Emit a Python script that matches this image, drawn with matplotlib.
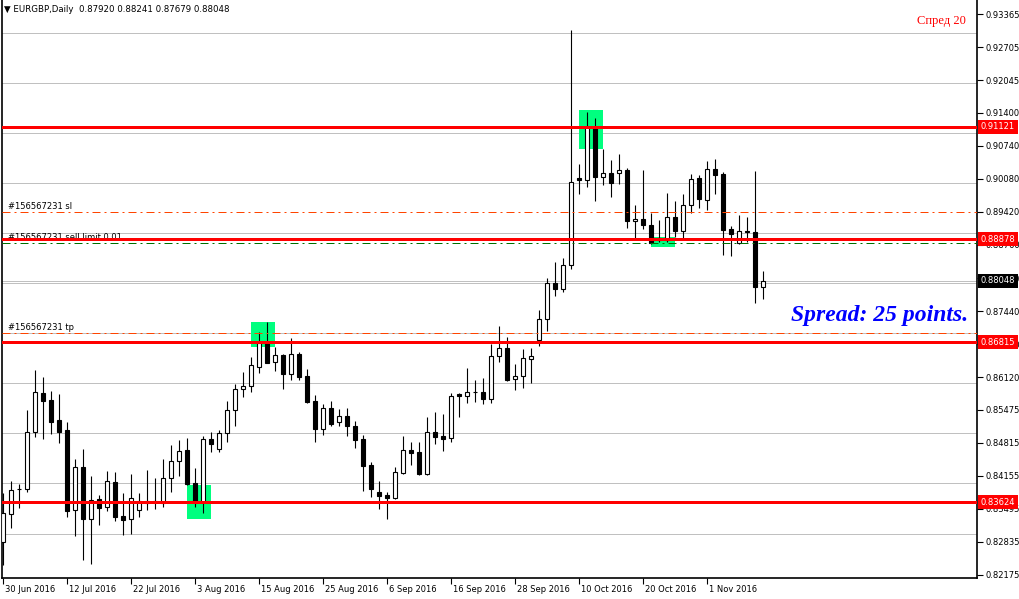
import numpy as np
import matplotlib.pyplot as plt
from matplotlib.patches import Rectangle
from matplotlib.transforms import ScaledTranslation

# EURGBP daily bars (index 0 = 30 Jun 2016)
opens = [0.82826, 0.83385, 0.83880, 0.83884, 0.85021, 0.85812, 0.85660, 0.85267, 0.85067, 0.83464,
         0.84329, 0.83297, 0.83684, 0.83524, 0.84023, 0.83351, 0.83285, 0.83464, 0.83616, 0.83624,
         0.83604, 0.84103, 0.84442, 0.84668, 0.84003, 0.83630, 0.84888, 0.84682, 0.85001, 0.85460,
         0.85880, 0.85940, 0.86331, 0.86798, 0.86419, 0.86564, 0.86179, 0.86584, 0.86145, 0.85646,
         0.85081, 0.85500, 0.85221, 0.85341, 0.85141, 0.84888, 0.84369, 0.83830, 0.83776, 0.83716,
         0.84203, 0.84674, 0.84622, 0.84189, 0.85027, 0.84953, 0.84902, 0.85776, 0.85740, 0.85820,
         0.85822, 0.85680, 0.86554, 0.86698, 0.86091, 0.86135, 0.86494, 0.86858, 0.87277, 0.87995,
         0.87876, 0.88355, 0.90091, 0.90063, 0.91109, 0.90123, 0.90191, 0.90203, 0.90251, 0.89233,
         0.89273, 0.89159, 0.88893, 0.88860, 0.89313, 0.89033, 0.89552, 0.90091, 0.89652, 0.90271,
         0.90171, 0.89073, 0.88794, 0.89033, 0.89013, 0.87920]
highs = [0.83816, 0.84049, 0.83989, 0.85466, 0.86265, 0.86125, 0.85846, 0.85786, 0.85227, 0.84488,
         0.84688, 0.84149, 0.83770, 0.84249, 0.84229, 0.83804, 0.84189, 0.83810, 0.84269, 0.84115,
         0.84488, 0.84768, 0.84874, 0.84908, 0.84303, 0.84942, 0.85021, 0.85067, 0.85646, 0.85979,
         0.86225, 0.86530, 0.87017, 0.87229, 0.86718, 0.86584, 0.86898, 0.86618, 0.86285, 0.85766,
         0.85586, 0.85646, 0.85486, 0.85500, 0.85247, 0.84967, 0.84435, 0.84049, 0.83830, 0.84335,
         0.84947, 0.84828, 0.84822, 0.85327, 0.85427, 0.85387, 0.85806, 0.85806, 0.86299, 0.86065,
         0.86099, 0.86784, 0.87143, 0.86918, 0.86379, 0.86684, 0.86698, 0.87462, 0.88107, 0.88415,
         0.88494, 0.93051, 0.90377, 0.91415, 0.91295, 0.90670, 0.90456, 0.90576, 0.90297, 0.89558,
         0.90257, 0.89404, 0.89259, 0.89792, 0.89638, 0.89778, 0.90177, 0.90157, 0.90442, 0.90470,
         0.90219, 0.89139, 0.89359, 0.89313, 0.90237, 0.88241]
lows = [0.82373, 0.83117, 0.83516, 0.83836, 0.84922, 0.84882, 0.84993, 0.84814, 0.83337, 0.82957,
        0.82472, 0.82393, 0.83171, 0.83450, 0.83257, 0.82971, 0.82985, 0.83337, 0.83470, 0.83484,
        0.83536, 0.83836, 0.84155, 0.83960, 0.83536, 0.83405, 0.84622, 0.84628, 0.84834, 0.85153,
        0.85732, 0.85826, 0.86199, 0.86399, 0.86245, 0.85886, 0.86065, 0.86065, 0.85600, 0.84834,
        0.84967, 0.85147, 0.85147, 0.84953, 0.84714, 0.83856, 0.83736, 0.83496, 0.83291, 0.83690,
        0.84189, 0.84375, 0.84175, 0.84175, 0.84788, 0.84654, 0.84834, 0.85333, 0.85600, 0.85632,
        0.85586, 0.85612, 0.86431, 0.86045, 0.85872, 0.85911, 0.86011, 0.86744, 0.87049, 0.87748,
        0.87828, 0.88275, 0.89778, 0.89924, 0.89644, 0.89963, 0.89724, 0.89977, 0.89105, 0.88893,
        0.89073, 0.88780, 0.88826, 0.88826, 0.88926, 0.88894, 0.89404, 0.89492, 0.89458, 0.89778,
        0.88560, 0.88546, 0.88774, 0.88826, 0.87608, 0.87679]
closes = [0.83405, 0.83864, 0.83890, 0.85021, 0.85820, 0.85652, 0.85233, 0.85033, 0.83456, 0.84323,
          0.83297, 0.83670, 0.83516, 0.84043, 0.83337, 0.83271, 0.83704, 0.83644, 0.83644, 0.83644,
          0.84103, 0.84448, 0.84648, 0.83989, 0.83636, 0.84882, 0.84782, 0.85001, 0.85460, 0.85880,
          0.85940, 0.86359, 0.86798, 0.86411, 0.86558, 0.86179, 0.86578, 0.86131, 0.85632, 0.85093,
          0.85500, 0.85187, 0.85341, 0.85153, 0.84874, 0.84355, 0.83884, 0.83756, 0.83716, 0.84223,
          0.84662, 0.84614, 0.84189, 0.85021, 0.84934, 0.84894, 0.85740, 0.85736, 0.85820, 0.85826,
          0.85676, 0.86538, 0.86698, 0.86071, 0.86139, 0.86498, 0.86538, 0.87277, 0.87995, 0.87876,
          0.88355, 0.90023, 0.90063, 0.91121, 0.90123, 0.90191, 0.90003, 0.90251, 0.89245, 0.89273,
          0.89165, 0.88794, 0.88860, 0.89313, 0.89033, 0.89552, 0.90071, 0.89672, 0.90271, 0.90151,
          0.89065, 0.88973, 0.89033, 0.89013, 0.87916, 0.88048]

date_pos = [0, 8, 16, 24, 32, 40, 48, 56, 64, 72, 80, 88]
date_labels = ['30 Jun 2016', '12 Jul 2016', '22 Jul 2016', '3 Aug 2016', '15 Aug 2016',
               '25 Aug 2016', '6 Sep 2016', '16 Sep 2016', '28 Sep 2016', '10 Oct 2016',
               '20 Oct 2016', '1 Nov 2016']

price_ticks = [0.93365, 0.92705, 0.92045, 0.91400, 0.90740, 0.90080, 0.89420, 0.88760, 0.88100,
               0.87440, 0.86780, 0.86120, 0.85475, 0.84815, 0.84155, 0.83495, 0.82835, 0.82175]
grid_levels = [0.83, 0.84, 0.85, 0.86, 0.87, 0.88, 0.89, 0.90, 0.91, 0.92, 0.93]

red_levels = [0.91121, 0.88878, 0.86815, 0.83624]
bid = 0.88048
order_sl = 0.89425
order_tp = 0.87010
order_limit = 0.88795
order_id = '#156567231'

# highlight boxes: (bar from, bar to, price low, price high)
boxes = [(72, 75, 0.90682, 0.91454),
         (81, 84, 0.88726, 0.88913),
         (31, 34, 0.86730, 0.87223),
         (23, 26, 0.83297, 0.83975)]

PX = 0.72  # one pixel in points at 100 dpi

fig = plt.figure(figsize=(10.2, 5.99), dpi=100)
ax = fig.add_axes([2 / 1020, 21 / 599, 975 / 1020, 578 / 599])
ax.set_xlim(-0.16, 121.71)
ax.set_ylim(0.82113, 0.93650)

ax.spines['top'].set_visible(False)
for s in ['left', 'right', 'bottom']:
    ax.spines[s].set_linewidth(1.2)

# grid + bid line
for g in grid_levels:
    ax.axhline(g, color='#c0c0c0', lw=PX, zorder=1)
ax.axhline(bid, color='#c0c0c0', lw=PX, zorder=1)

for x0, x1, p0, p1 in boxes:
    ax.add_patch(Rectangle((x0, p0), x1 - x0, p1 - p0, fc='#00ff7f', ec='none', zorder=2))

# candles
x = np.arange(len(opens))
o = np.array(opens)
c = np.array(closes)
up = c >= o
ax.vlines(x, lows, highs, color='black', lw=0.8, zorder=3)
ax.bar(x, c - o, bottom=o, width=0.5, color=np.where(up, 'white', 'black'),
       edgecolor='black', linewidth=0.8, zorder=4)

# order lines
ax.axhline(order_sl, color='#ff4500', lw=PX, ls=(0, (8, 4, 2, 4)), zorder=5)
ax.axhline(order_tp, color='#ff4500', lw=PX, ls=(0, (8, 4, 2, 4)), zorder=5)
ax.axhline(order_limit, color='#007000', lw=PX, ls=(0, (8, 4, 2, 4)), zorder=5)
for lvl, txt in [(order_sl, order_id + ' sl'), (order_limit, order_id + ' sell limit 0.01'),
                 (order_tp, order_id + ' tp')]:
    ax.annotate(txt, xy=(0, lvl), xycoords=('axes fraction', 'data'), xytext=(6 * PX, 3 * PX),
                textcoords='offset points', fontsize=6, va='baseline', zorder=5)

for lvl in red_levels:
    ax.axhline(lvl, color='red', lw=3 * PX, zorder=6)

# right price scale
ax.yaxis.tick_right()
ax.set_yticks(price_ticks, [f'{p:.5f}' for p in price_ticks])
ax.tick_params(axis='y', direction='out', length=4, width=0.8, pad=2, labelsize=6)
ax.set_xticks(date_pos, date_labels)
ax.tick_params(axis='x', direction='out', length=4, width=0.8, pad=1, labelsize=6)
for lab in ax.get_xticklabels():
    lab.set_horizontalalignment('left')
    lab.set_transform(lab.get_transform() + ScaledTranslation(2 / 100, 0, fig.dpi_scale_trans))

for lvl, bg in [(l, 'red') for l in red_levels] + [(bid, 'black')]:
    ax.annotate(f'{lvl:.5f}', xy=(1, lvl), xycoords=('axes fraction', 'data'),
                xytext=(4 * PX, 0), textcoords='offset points', fontsize=6, color='white',
                va='center', ha='left', annotation_clip=False, zorder=7,
                bbox=dict(boxstyle='square,pad=0.3', fc=bg, ec='none'))

fig.text(4 / 1020, 1 - 10 / 599,
         f'▼ EURGBP,Daily  {opens[-1]:.5f} {highs[-1]:.5f} {lows[-1]:.5f} {closes[-1]:.5f}',
         fontsize=6.2, va='center')
fig.text(966 / 1020, 1 - 21 / 599, 'Спред 20', color='red', family='Liberation Serif',
         fontsize=9, ha='right', va='center')
fig.text(968 / 1020, 1 - 316 / 599, 'Spread: 25 points.', color='blue', family='Liberation Serif',
         weight='bold', style='italic', fontsize=17, ha='right', va='center')

fig.savefig('out.png', dpi=100)
